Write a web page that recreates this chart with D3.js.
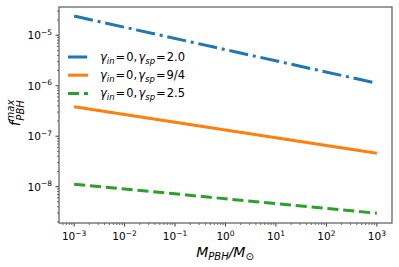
<!DOCTYPE html>
<html><head><meta charset="utf-8">
<script src="https://cdn.jsdelivr.net/npm/d3@7"></script>
<style>body{margin:0;background:#fff}svg{display:block}text{font-family:"DejaVu Sans",sans-serif}</style>
</head><body><svg id="c" width="399" height="267"></svg>
<script>
const masses = [1e-3, 1e3];
const gamma20 = [2.4e-5, 1.12e-6];
const gamma94 = [3.85e-7, 4.6e-8];
const gamma25 = [1.12e-8, 2.97e-9];
const seriesNames = ["2.0", "9/4", "2.5"];
const xTickExps = [-3, -2, -1, 0, 1, 2, 3];
const yTickExps = [-8, -7, -6, -5];

const L = 59, R = 392, T = 7, B = 223;
const svg = d3.select("#c");
const x = d3.scaleLog().domain([Math.pow(10, -3.3), Math.pow(10, 3.3)]).range([L, R]);
const y = d3.scaleLog().domain([Math.pow(10, -8.72), Math.pow(10, -4.44)]).range([B, T]);

const series = [
  {vals: gamma20, color: "#1f77b4", dash: "19.2,4.8,3,4.8", name: seriesNames[0]},
  {vals: gamma94, color: "#ff7f0e", dash: null, name: seriesNames[1]},
  {vals: gamma25, color: "#2ca02c", dash: "11.1,4.8", name: seriesNames[2]}
];
const line = d3.line().x((d, i) => x(masses[i])).y(d => y(d));
series.forEach(s => {
  svg.append("path").datum(s.vals).attr("d", line).attr("fill", "none")
    .attr("stroke", s.color).attr("stroke-width", 3).attr("stroke-dasharray", s.dash);
});

function minors(scale) {
  const [a, b] = scale.domain();
  const out = [];
  for (let e = Math.floor(Math.log10(a)); e <= Math.ceil(Math.log10(b)); e++)
    for (let m = 2; m <= 9; m++) { const v = m * Math.pow(10, e); if (v >= a && v <= b) out.push(v); }
  return out;
}
const g = svg.append("g").attr("stroke", "#000");
minors(x).forEach(v => g.append("line").attr("x1", x(v)).attr("x2", x(v)).attr("y1", B).attr("y2", B + 2).attr("stroke-width", 0.6));
minors(y).forEach(v => g.append("line").attr("y1", y(v)).attr("y2", y(v)).attr("x1", L).attr("x2", L - 2).attr("stroke-width", 0.6));
xTickExps.forEach(e => g.append("line").attr("x1", x(Math.pow(10, e))).attr("x2", x(Math.pow(10, e))).attr("y1", B).attr("y2", B + 3.5).attr("stroke-width", 0.8));
yTickExps.forEach(e => g.append("line").attr("y1", y(Math.pow(10, e))).attr("y2", y(Math.pow(10, e))).attr("x1", L).attr("x2", L - 3.5).attr("stroke-width", 0.8));

function tickLabel(px, py, e, anchor) {
  const t = svg.append("text").attr("x", px).attr("y", py).attr("text-anchor", anchor).attr("font-size", 10.5).attr("fill", "#000");
  t.append("tspan").text("10");
  t.append("tspan").attr("dy", -4.5).attr("font-size", 7.5).text(e < 0 ? "\u2212" + (-e) : String(e));
}
xTickExps.forEach(e => tickLabel(x(Math.pow(10, e)), 240, e, "middle"));
yTickExps.forEach(e => tickLabel(52, y(Math.pow(10, e)) + 4, e, "end"));

svg.append("rect").attr("x", L).attr("y", T).attr("width", R - L).attr("height", B - T)
  .attr("fill", "none").attr("stroke", "#666").attr("stroke-width", 1.3);

const xl = svg.append("text").attr("x", 225).attr("y", 257).attr("text-anchor", "middle").attr("font-size", 14).attr("font-style", "italic");
xl.append("tspan").text("M");
xl.append("tspan").attr("dy", 3).attr("font-size", 10).text("PBH");
xl.append("tspan").attr("dy", -3).text("/M");
xl.append("tspan").attr("dy", 3).attr("font-size", 10).attr("font-style", "normal").text("\u2299");
const yl = svg.append("text").attr("transform", "translate(20,113) rotate(-90)").attr("text-anchor", "middle").attr("font-size", 14).attr("font-style", "italic");
yl.append("tspan").text("f");
yl.append("tspan").attr("dy", -6).attr("font-size", 10).text("max");
yl.append("tspan").attr("dx", -21).attr("dy", 10).attr("font-size", 10).text("PBH");

const LEG_W = 85;
series.forEach((s, i) => {
  const ly = 57 + i * 18.2;
  svg.append("line").attr("x1", 68).attr("x2", 88).attr("y1", ly).attr("y2", ly)
    .attr("stroke", s.color).attr("stroke-width", 3).attr("stroke-dasharray", s.dash);
  const parts = [
    {t: "\u03b3", it: true, gap: 0}, {t: "in", it: true, sub: true, gap: 1},
    {t: "=", gap: 1}, {t: "0,", gap: 1.3},
    {t: "\u03b3", it: true, gap: 0}, {t: "sp", it: true, sub: true, gap: 1},
    {t: "=", gap: 1}, {t: s.name, gap: 0}
  ];
  const grp = svg.append("g");
  const nodes = parts.map(p => grp.append("text").attr("y", ly + 4 + (p.sub ? 2.5 : 0))
    .attr("font-size", p.sub ? 8.5 : 11.5).attr("font-style", p.it ? "italic" : "normal").text(p.t));
  const widths = nodes.map(n => n.node().getComputedTextLength());
  const gapTot = parts.reduce((a, p) => a + p.gap, 0);
  const unit = Math.max(0.8, (LEG_W - d3.sum(widths)) / gapTot);
  let cx = 100;
  nodes.forEach((n, k) => { n.attr("x", cx); cx += widths[k] + parts[k].gap * unit; });
});
</script></body></html>
